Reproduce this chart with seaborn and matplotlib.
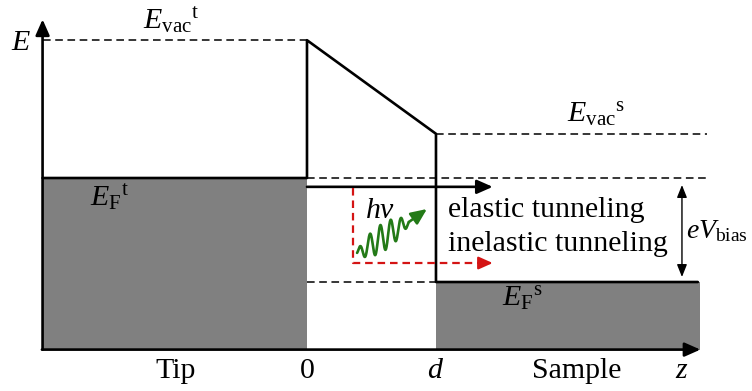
import numpy as np
import pandas as pd
import matplotlib
matplotlib.use("Agg")
import matplotlib.pyplot as plt
import seaborn as sns

# ---- band-diagram values (z in units of gap width d, E in units of eV_bias / 2) ----
z_axis = [-2.05, 3.05]          # extent of the z axis (tip side start, arrow tip)
E_axis = [-1.30, 5.05]          # extent of the E axis (origin, arrow tip)
z_gap = [0.0, 1.0]              # tip surface at 0, sample surface at d
E_F_tip = 2.0                   # Fermi level of the tip
E_F_sample = 0.0                # Fermi level of the sample
E_vac_tip = 4.65                # vacuum level of the tip
E_vac_sample = 2.85             # vacuum level of the sample
z_dash_end = 3.10               # right end of the dashed reference levels
z_sample_end = 3.03             # right end of the sample Fermi line

# tunneling paths
E_elastic = 1.83
z_path_end = 1.44
z_inelastic = 0.357
E_inelastic = 0.365
z_bias = 2.907
E_bias_arrow = [1.865, 0.096]

# axis tick-like labels below the z axis
bottom_labels = ["Tip", "0", r"$d$", "Sample", r"$z$"]
bottom_label_z = [-1.02, 0.0, 1.0, 2.09, 2.907]

sns.set_theme(style="white")
plt.rcParams["font.family"] = ["Liberation Serif", "DejaVu Serif"]
plt.rcParams["mathtext.fontset"] = "custom"
plt.rcParams["mathtext.rm"] = "Liberation Serif"
plt.rcParams["mathtext.it"] = "Liberation Serif:italic"
plt.rcParams["mathtext.bf"] = "Liberation Serif:bold"

fig = plt.figure(figsize=(7.52, 3.91), dpi=100)
ax = fig.add_axes([0, 0, 1, 1])
ax.set_xlim(-2.380, 3.450)
ax.set_ylim(-2.096, 5.423)
ax.axis("off")

GRAY = "#808080"
FS = 21.5

# occupied states (gray) in tip and sample
ax.fill_between([z_axis[0], z_gap[0]], E_axis[0], E_F_tip, color=GRAY, lw=0, zorder=1)
ax.fill_between([z_gap[1], z_sample_end + 0.02], E_axis[0], E_F_sample, color=GRAY, lw=0, zorder=1)

# potential profile: tip Fermi level -> barrier -> sample Fermi level
profile = pd.DataFrame({
    "z": [z_axis[0], z_gap[0], z_gap[0], z_gap[1], z_gap[1], z_sample_end],
    "E": [E_F_tip, E_F_tip, E_vac_tip, E_vac_sample, E_F_sample, E_F_sample],
})
sns.lineplot(data=profile, x="z", y="E", sort=False, estimator=None,
             color="black", lw=1.9, ax=ax, zorder=3)

# dashed reference levels
dash_kw = dict(color="black", lw=1.1, dashes=(5.0, 3.0), zorder=2)
ax.plot([z_axis[0], z_gap[0]], [E_vac_tip] * 2, **dash_kw)
ax.plot([z_gap[1], z_dash_end], [E_vac_sample] * 2, **dash_kw)
ax.plot([z_gap[0], z_dash_end], [E_F_tip] * 2, **dash_kw)
ax.plot([z_gap[0], z_gap[1]], [E_F_sample] * 2, **dash_kw)

# coordinate axes with arrow heads
axis_arrow = dict(arrowstyle="-|>,head_length=0.95,head_width=0.42",
                  color="black", lw=1.9, shrinkA=0, shrinkB=0, mutation_scale=10)
ax.annotate("", xy=(z_axis[0], E_axis[1]), xytext=(z_axis[0], E_axis[0]),
            arrowprops=axis_arrow, zorder=4)
ax.annotate("", xy=(z_axis[1], E_axis[0]), xytext=(z_axis[0] - 0.005, E_axis[0]),
            arrowprops=axis_arrow, zorder=4)

# elastic tunneling path
ax.annotate("", xy=(z_path_end, E_elastic), xytext=(z_gap[0], E_elastic),
            arrowprops=axis_arrow, zorder=4)

# inelastic tunneling path (red dashed, with a drop in energy)
RED = "#d41414"
ax.plot([z_inelastic, z_inelastic, z_path_end - 0.08],
        [E_elastic - 0.02, E_inelastic, E_inelastic],
        color=RED, lw=1.6, dashes=(3.4, 2.2), zorder=4)
ax.annotate("", xy=(z_path_end, E_inelastic), xytext=(z_path_end - 0.09, E_inelastic),
            arrowprops=dict(arrowstyle="-|>,head_length=0.85,head_width=0.38",
                            color=RED, lw=1.6, shrinkA=0, shrinkB=0, mutation_scale=10),
            zorder=4)

# emitted photon: wave packet ending in an arrow
GREEN = "#237a17"
px_E = 1 / 52.0                        # E units per pixel
t = np.linspace(0, 1, 600)
w0 = np.array([0.388, 0.560])          # start of the wave packet
w1 = np.array([0.790, 1.154])          # end of the wave packet
env = np.sin(np.pi * t) ** 0.6
wz = w0[0] + (w1[0] - w0[0]) * t
wE = w0[1] + (w1[1] - w0[1]) * t + 14 * px_E * env * np.sin(2 * np.pi * 5 * t)
ax.plot(wz, wE, color=GREEN, lw=1.9, zorder=5)
ax.annotate("", xy=(0.930, 1.404), xytext=(w1[0], w1[1]),
            arrowprops=dict(arrowstyle="-|>,head_length=0.95,head_width=0.42",
                            color=GREEN, lw=1.9, shrinkA=0, shrinkB=0, mutation_scale=10),
            zorder=5)

# bias double arrow
ax.annotate("", xy=(z_bias, E_bias_arrow[1]), xytext=(z_bias, E_bias_arrow[0]),
            arrowprops=dict(arrowstyle="<|-|>,head_length=0.75,head_width=0.3",
                            color="black", lw=1.0, shrinkA=0, shrinkB=0, mutation_scale=10),
            zorder=4)

# labels
txt = dict(fontsize=FS, color="black", zorder=6)
ax.text(-2.217, 4.596, r"$E$", ha="center", va="center", **txt)
ax.text(-1.271, 4.846, r"$E_{\mathrm{vac}}{}^{\mathrm{t}}$", ha="left", va="baseline", **txt)
ax.text(2.016, 3.058, r"$E_{\mathrm{vac}}{}^{\mathrm{s}}$", ha="left", va="baseline", **txt)
ax.text(-1.682, 1.442, r"$E_{\mathrm{F}}{}^{\mathrm{t}}$", ha="left", va="baseline", **txt)
ax.text(1.512, -0.481, r"$E_{\mathrm{F}}{}^{\mathrm{s}}$", ha="left", va="baseline", **txt)
ax.text(0.450, 1.231, r"$hv$", ha="left", va="baseline", **txt)
ax.text(1.093, 1.250, "elastic tunneling", ha="left", va="baseline", **txt)
ax.text(1.093, 0.596, "inelastic tunneling", ha="left", va="baseline", **txt)
ax.text(2.938, 0.846, r"$eV_{\mathrm{bias}}$", ha="left", va="baseline",
        fontsize=20, color="black", zorder=6)
for lab, zl in zip(bottom_labels, bottom_label_z):
    ax.text(zl, -1.846, lab, ha="center", va="baseline", **txt)

fig.savefig("out.png", dpi=100)
